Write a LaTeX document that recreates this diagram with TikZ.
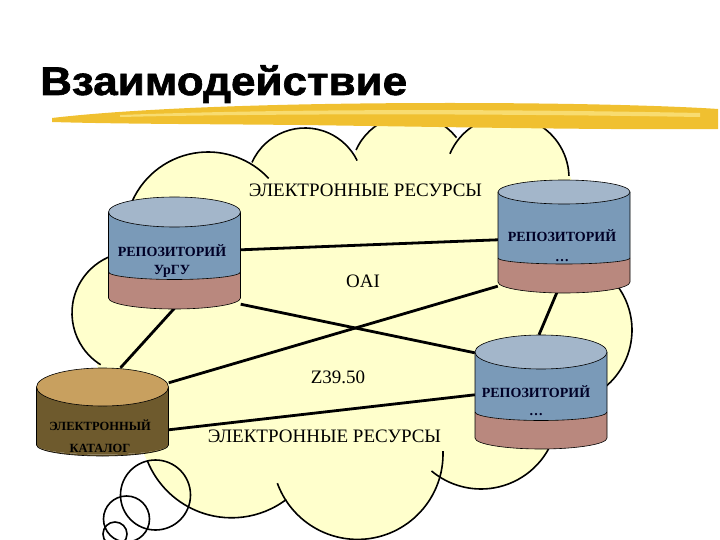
\documentclass[tikz,border=0pt]{standalone}
\usepackage{fontspec}
\usepackage{graphicx}
\setmainfont{Liberation Serif}[BoldFont={Liberation Serif Bold}]
\newfontfamily\headfont{Liberation Sans Bold}[FakeBold=1.5]
\usetikzlibrary{backgrounds}
\definecolor{cloudyel}{HTML}{FFFFCC}
\definecolor{repolight}{HTML}{A3B6CA}
\definecolor{reposteel}{HTML}{7A9AB8}
\definecolor{reporose}{HTML}{B9887E}
\definecolor{cattan}{HTML}{C8A05F}
\definecolor{catbrown}{HTML}{6E5A2D}
\definecolor{brushgold}{HTML}{F0C030}
\definecolor{brushlight}{HTML}{F8DC70}
\tikzset{
  cloudbody/.style={fill=cloudyel},
  cloudline/.style={draw=black,line width=1.6pt},
  link/.style={draw=black,line width=2.8pt},
  drumline/.style={draw=black,line width=0.6pt},
  repotop/.style={fill=repolight},
  repobody/.style={fill=reposteel},
  repoband/.style={fill=reporose},
  reposplit/.style={drumline},
  cattop/.style={fill=cattan},
  catbody/.style={fill=catbrown},
  catband/.style={fill=catbrown},
  catsplit/.style={draw=none},
  drumbox/.style={rectangle,inner sep=0pt,minimum width=132pt},
  drumtxt/.style={font=\bfseries\fontsize{14}{18}\selectfont,text=black!85!blue,align=center,inner sep=0pt},
  cloudtxt/.style={font=\fontsize{19}{22}\selectfont,inner sep=0pt},
  head/.style={font=\headfont\fontsize{40}{44}\selectfont,inner sep=0pt},
}
% #1 name, #2 centre x, #3 top, #4 band top, #5 bottom, #6 top radius, #7 kind
\newcommand\dbdrum[7]{%
  \fill[#7body] ({#2-66},#3) -- ({#2-66},#4) arc[start angle=180,end angle=0,x radius=66,y radius=#6/2]
    -- ({#2+66},#3) -- cycle;
  \fill[#7band] ({#2-66},#4) arc[start angle=180,end angle=0,x radius=66,y radius=#6/2]
    -- ({#2+66},#5) arc[start angle=0,end angle=180,x radius=66,y radius=11] -- cycle;
  \draw[drumline] ({#2-66},#3) -- ({#2-66},#5) arc[start angle=180,end angle=0,x radius=66,y radius=11]
    -- ({#2+66},#3);
  \draw[#7split] ({#2-66},#4) arc[start angle=180,end angle=0,x radius=66,y radius=#6/2];
  \filldraw[#7top,drumline] (#2,#3) ellipse[x radius=66,y radius=#6];
  \node[drumbox,minimum height={(#5-#3)*1pt}] (#1) at (#2,{(#3+#5)/2}) {};
}

\begin{document}
\begin{tikzpicture}[x=1pt,y=-1pt]
  \useasboundingbox (0,0) rectangle (720,540);

  % heading and brush stroke
  \node[head,anchor=base west] (title) at (40,95) {\scalebox{1.1}[1]{Взаимодействие}};
  \fill[brushgold] (52,118) .. controls (120,110) and (250,103) .. (450,103)
    .. controls (600,103) and (690,107) .. (718,109) -- (718,129)
    .. controls (600,130) and (450,127) .. (300,125)
    .. controls (200,124) and (120,124) .. (52,122) -- cycle;
  \fill[brushlight] (120,115) .. controls (250,110) and (450,108) .. (700,113)
    -- (700,117) .. controls (450,113) and (250,114) .. (120,117) -- cycle;

  % the four stores
  \dbdrum{urgu}{174.5}{212}{272}{298}{15}{repo}
  \dbdrum{reptop}{564}{192}{258}{282}{12}{repo}
  \dbdrum{repbot}{541}{352}{412}{438}{17}{repo}
  \dbdrum{catalog}{102.5}{387}{445}{445}{19}{cat}

  \node[drumtxt] (urgu-txt) at (172,261) {РЕПОЗИТОРИЙ\\УрГУ};
  \node[drumtxt,font=\bfseries\fontsize{14}{20}\selectfont] (reptop-txt) at (562,246) {РЕПОЗИТОРИЙ\\\dots};
  \node[drumtxt] (repbot-txt) at (536,401) {РЕПОЗИТОРИЙ\\\dots};
  \node[drumtxt,text=black,font=\bfseries\fontsize{12.5}{22}\selectfont] (catalog-txt) at (100,436) {ЭЛЕКТРОННЫЙ\\КАТАЛОГ};

  \begin{scope}[on background layer]
    % cloud
    \fill[cloudbody] (135,195) -- (255,165) -- (357,155) -- (450,150) -- (567,170) -- (620,280)
      -- (607,385) -- (550,447) -- (440,476) -- (283,498) -- (147,460) -- (97,366) -- (107,260) -- cycle;
    \foreach \cx/\cy/\r in {208/235/83, 305/186/58, 410/174/59, 507/178/62, 558/330/74,
                            481/412/77, 357.6/454/85.4, 231.6/427/90.8, 133/313/61}
      \fill[cloudbody] (\cx,\cy) circle[radius=\r];
    \foreach \cx/\cy/\r/\a/\b in {208/235/83/204/317, 305/186/58/204/334, 410/174/59/204/322,
                                  507/178/62/203/358, 558/330/74/-50/60, 481/412/77/20/130,
                                  357.6/454/85.4/-2/160, 231.6/427/90.8/53/158, 133/313/61/122/250}
      \draw[cloudline] (\cx,\cy) ++(\a:\r) arc[start angle=\a,end angle=\b,radius=\r];
    \draw[cloudline] (155.5,495) circle[radius=35];
    \draw[cloudline] (126.5,519) circle[radius=23];
    \draw[cloudline] (115,534) circle[radius=12];

    % links between the stores
    \draw[link] ([yshift=-38pt]urgu.north east) -- ([yshift=-48pt]reptop.north west);
    \draw[link] ([yshift=-6pt]urgu.south east) -- ([yshift=-1pt]repbot.north west);
    \draw[link] ([yshift=4pt]catalog.north east) -- ([yshift=-4pt]reptop.south west);
    \draw[link] ([yshift=-43pt]catalog.north east) -- ([yshift=-43pt]repbot.north west);
    \draw[link] ([yshift=-10pt]urgu.south) -- ([xshift=18pt,yshift=19pt]catalog.north);
    \draw[link] ([xshift=-7pt,yshift=-10pt]reptop.south) -- ([xshift=-2pt,yshift=17pt]repbot.north);
  \end{scope}

  % protocol and resource labels
  \node[cloudtxt] (res-top) at (365.5,190) {ЭЛЕКТРОННЫЕ РЕСУРСЫ};
  \node[cloudtxt] (oai) at (363,281) {OAI};
  \node[cloudtxt] (z3950) at (338,377) {Z39.50};
  \node[cloudtxt] (res-bot) at (324.5,436) {ЭЛЕКТРОННЫЕ РЕСУРСЫ};
\end{tikzpicture}
\end{document}
